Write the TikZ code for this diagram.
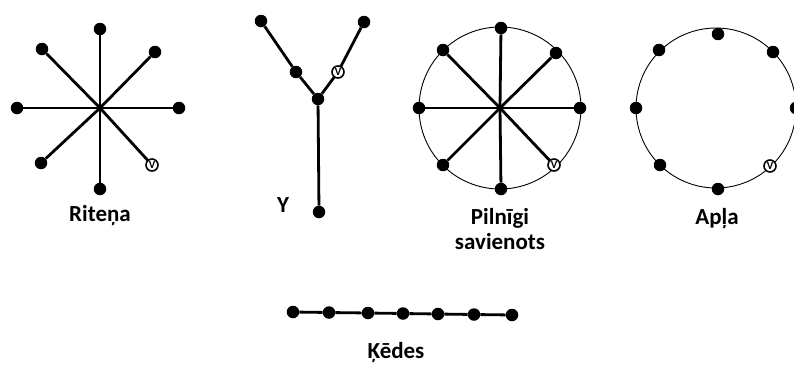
\documentclass[tikz,border=0pt]{standalone}
\usepackage{fontspec}
\setmainfont{Carlito}
\begin{document}
\begin{tikzpicture}[x=1pt,y=-1pt,
  dot/.style={circle,fill=black,inner sep=0pt,minimum size=12.5pt},
  vdot/.style={circle,fill=white,draw=black,line width=1.6pt,inner sep=0pt,minimum size=12pt,font=\bfseries\fontsize{11}{11}\selectfont},
  spoke/.style={line width=2.8pt},
  ring/.style={line width=0.9pt},
  lbl/.style={font=\bfseries\fontsize{23}{25}\selectfont,align=center,inner sep=0pt}]
\useasboundingbox (0,0) rectangle (794,367);
% ---------- Riteņa ----------
\coordinate (rc) at (100,108);
\node[dot] (r1) at (100,29) {};
\node[dot] (r2) at (155,52) {};
\node[dot] (r3) at (179,108) {};
\node[dot] (r5) at (100,189) {};
\node[dot] (r6) at (41,163) {};
\node[dot] (r7) at (17,108) {};
\node[dot] (r8) at (42,49) {};
\coordinate (r4) at (152,165);
\foreach \i in {1,...,8} \draw[spoke] (rc) -- (r\i);
\node[vdot] (rv) at (r4) {V};
\node[lbl] (rl) at (100,216) {Riteņa};
% ---------- Y ----------
\node[dot] (yc) at (318,99) {};
\node[dot] (y1) at (261,21) {};
\node[dot] (y2) at (296,72) {};
\node[dot] (y3) at (364,22) {};
\coordinate (y4) at (338,72);
\node[dot] (y5) at (319,212) {};
\draw[spoke] (y1) -- (y2) -- (yc) -- (y4) -- (y3);
\draw[spoke] (yc) -- (y5);
\node[vdot] (yv) at (y4) {V};
\node[lbl] (yl) at (283,205) {Y};
% ---------- Pilnīgi savienots ----------
\coordinate (pc) at (500,108);
\draw[ring] (pc) circle[radius=81];
\node[dot] (p1) at (501,28) {};
\node[dot] (p2) at (556,53) {};
\node[dot] (p3) at (580,108) {};
\coordinate (p4) at (554,165);
\node[dot] (p5) at (501,189) {};
\node[dot] (p6) at (443,165) {};
\node[dot] (p7) at (419,108) {};
\node[dot] (p8) at (443,50) {};
\foreach \i in {1,...,8} \draw[spoke] (pc) -- (p\i);
\node[vdot] (pv) at (p4) {V};
\node[lbl] (pl) at (500,229) {Pilnīgi\\savienots};
% ---------- Apļa ----------
\coordinate (ac) at (716,108);
\draw[ring] (ac) circle[radius=80];
\node[dot] (a1) at (718,34) {};
\node[dot] (a2) at (773,52) {};
\node[dot] (a3) at (796,108) {};
\node[vdot] (a4) at (770,166) {V};
\node[dot] (a5) at (718,189) {};
\node[dot] (a6) at (660,165) {};
\node[dot] (a7) at (636,108) {};
\node[dot] (a8) at (659,50) {};
\node[lbl] (al) at (717,219) {Apļa};
% ---------- Ķēdes ----------
\node[dot] (k1) at (293,312) {};
\node[dot] (k2) at (329,312.5) {};
\node[dot] (k3) at (368,313) {};
\node[dot] (k4) at (403,313.5) {};
\node[dot] (k5) at (438,314) {};
\node[dot] (k6) at (474,314.5) {};
\node[dot] (k7) at (512,315) {};
\draw[spoke] (k1) -- (k2) -- (k3) -- (k4) -- (k5) -- (k6) -- (k7);
\node[lbl] (kl) at (396,352) {Ķēdes};
\end{tikzpicture}
\end{document}
